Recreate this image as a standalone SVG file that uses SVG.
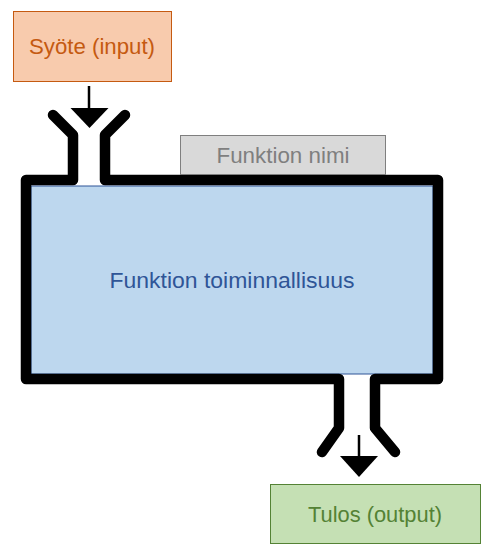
<svg xmlns="http://www.w3.org/2000/svg" width="493" height="559" viewBox="0 0 493 559">
<style>
text{font-family:"Liberation Sans",Arial,sans-serif;font-size:22px;text-anchor:middle;dominant-baseline:central}
.pipe{fill:none;stroke:#000;stroke-width:10.5;stroke-linejoin:round;stroke-linecap:round}
.arr{stroke:#000;stroke-width:2.5}
</style>
<rect width="493" height="559" fill="#fff"/>
<g id="body">
<rect x="31" y="186" width="402" height="188" fill="#BDD7EE" stroke="#2F5597" stroke-width="1"/>
<text x="232" y="280" fill="#2F5597" textLength="245" lengthAdjust="spacingAndGlyphs">Funktion toiminnallisuus</text>
</g>
<g id="connectors">
<path class="pipe" d="M53,115 L73,135 L73,180 L26,180 L26,379 L339,379 L339,428 L322,452"/>
<path class="pipe" d="M125,115 L105,135 L105,180 L438,180 L438,379 L375,379 L375,428 L395,452"/>
<line class="arr" x1="89" y1="86" x2="89" y2="112"/>
<polygon points="70.5,108 108.5,108 89.5,128"/>
<line class="arr" x1="359" y1="435" x2="359" y2="460"/>
<polygon points="340,456 378,456 359,477"/>
</g>
<g id="input">
<rect x="13.5" y="11.5" width="158" height="70" fill="#F8CBAD" stroke="#C55A11" stroke-width="1"/>
<text x="92" y="46" fill="#C55A11" textLength="126" lengthAdjust="spacingAndGlyphs">Syöte (input)</text>
</g>
<g id="name">
<rect x="180.5" y="135.5" width="205" height="39" fill="#D9D9D9" stroke="#7F7F7F" stroke-width="1"/>
<text x="283" y="155" fill="#7F7F7F" textLength="133" lengthAdjust="spacingAndGlyphs">Funktion nimi</text>
</g>
<g id="output">
<rect x="270.5" y="484.5" width="210" height="59" fill="#C5E0B4" stroke="#548235" stroke-width="1"/>
<text x="375" y="514" fill="#548235" textLength="134" lengthAdjust="spacingAndGlyphs">Tulos (output)</text>
</g>
</svg>
